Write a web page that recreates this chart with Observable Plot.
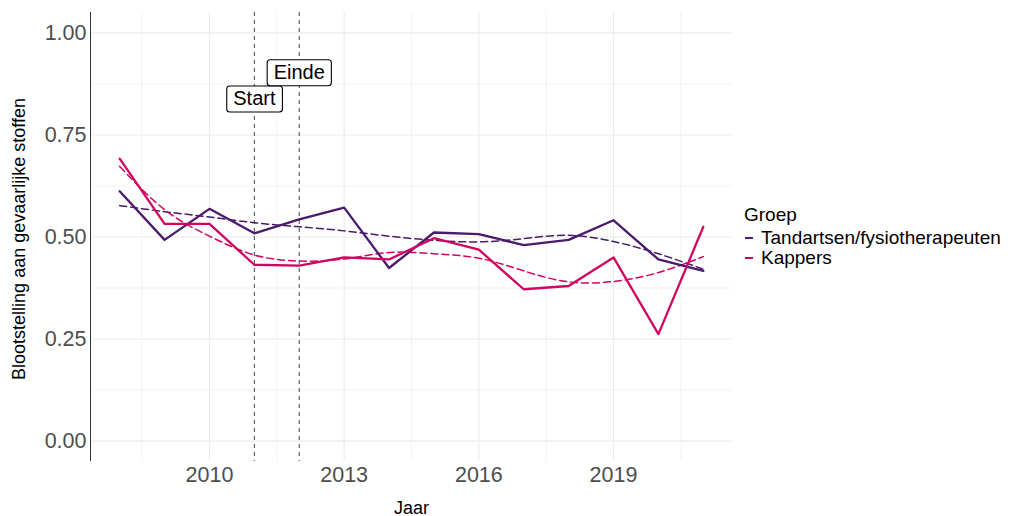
<!DOCTYPE html>
<html>
<head>
<meta charset="utf-8">
<script src="https://cdn.jsdelivr.net/npm/d3@7"></script>
<script src="https://cdn.jsdelivr.net/npm/@observablehq/plot@0.6"></script>
<style>
  body { margin: 0; background: white; font-family: "Liberation Sans", Arial, sans-serif; }
  #wrap { position: relative; width: 1035px; height: 516px; }
  #legend { position: absolute; left: 744px; top: 205px; font-size: 19px; color: #000; }
  #legend .title { line-height: 20px; height: 20px; margin-bottom: 3px; }
  #legend .item { line-height: 20px; height: 20px; position: relative; padding-left: 17px; white-space: nowrap; }
  #legend .sw { position: absolute; left: 1px; top: 9px; width: 8px; height: 2px; }
</style>
</head>
<body>
<div id="wrap"><div id="legend"></div></div>
<script>
const years = [2008, 2009, 2010, 2011, 2012, 2013, 2014, 2015, 2016, 2017, 2018, 2019, 2020, 2021];
const groups = ["Tandartsen/fysiotherapeuten", "Kappers"];
const colors = ["#4a1a6b", "#d1055f"];
const tandartsen = [0.612, 0.493, 0.569, 0.509, 0.543, 0.572, 0.424, 0.511, 0.507, 0.480, 0.493, 0.541, 0.445, 0.417];
const kappers    = [0.692, 0.532, 0.532, 0.432, 0.430, 0.450, 0.445, 0.497, 0.469, 0.372, 0.380, 0.450, 0.262, 0.525];
const tandartsenSmooth = [0.577, 0.562, 0.549, 0.535, 0.525, 0.515, 0.502, 0.492, 0.488, 0.496, 0.504, 0.489, 0.459, 0.421];
const kappersSmooth    = [0.673, 0.567, 0.502, 0.456, 0.441, 0.446, 0.462, 0.459, 0.448, 0.417, 0.390, 0.391, 0.413, 0.452];
const eventYears = [2011, 2012];
const eventLabels = ["Start", "Einde"];
const eventLabelY = [0.838, 0.902];
const xTicks = [2010, 2013, 2016, 2019];
const xMinor = [2008.5, 2011.5, 2014.5, 2017.5, 2020.5];
const yTicks = [0, 0.25, 0.5, 0.75, 1];
const yMinor = [0.125, 0.375, 0.625, 0.875];
const xDomain = [2007.35, 2021.65];
const yDomain = [-0.05, 1.05];

const raw = [];
const smooth = [];
years.forEach((yr, i) => {
  raw.push({year: yr, value: tandartsen[i], group: groups[0]});
  smooth.push({year: yr, value: tandartsenSmooth[i], group: groups[0]});
});
years.forEach((yr, i) => {
  raw.push({year: yr, value: kappers[i], group: groups[1]});
  smooth.push({year: yr, value: kappersSmooth[i], group: groups[1]});
});
const events = eventYears.map((y, i) => ({year: y, label: eventLabels[i], ly: eventLabelY[i]}));

const chart = Plot.plot({
  width: 1035,
  height: 516,
  marginLeft: 90,
  marginRight: 303,
  marginTop: 12,
  marginBottom: 55,
  x: {domain: xDomain},
  y: {domain: yDomain},
  color: {domain: groups, range: colors},
  style: {fontFamily: "Liberation Sans, Arial, sans-serif", background: "white", overflow: "visible"},
  marks: [
    Plot.ruleX(xMinor, {stroke: "#ebebeb", strokeWidth: 0.6}),
    Plot.ruleY(yMinor, {stroke: "#ebebeb", strokeWidth: 0.6}),
    Plot.ruleX(xTicks, {stroke: "#ebebeb", strokeWidth: 1.1}),
    Plot.ruleY(yTicks, {stroke: "#ebebeb", strokeWidth: 1.1}),
    Plot.ruleX([xDomain[0]], {stroke: "#333333", strokeWidth: 1}),
    Plot.ruleX(events, {x: "year", stroke: "#555555", strokeWidth: 1.1, strokeDasharray: "4,4"}),
    Plot.line(smooth, {x: "year", y: "value", z: "group", stroke: "group", strokeWidth: 1.5, strokeDasharray: "7,4", curve: "natural"}),
    Plot.line(raw, {x: "year", y: "value", z: "group", stroke: "group", strokeWidth: 2.3}),
    Plot.text(events, {x: "year", y: "ly", text: "label", fontSize: 20, fill: "black", className: "evlbl"}),
    Plot.axisX(xTicks, {anchor: "bottom", tickSize: 0, tickPadding: 5, fontSize: 21.5, color: "#4d4d4d", tickFormat: d => String(d), label: null}),
    Plot.axisY(yTicks, {anchor: "left", tickSize: 0, tickPadding: 4, fontSize: 21.5, color: "#4d4d4d", tickFormat: d => d.toFixed(2), label: null}),
    Plot.text(["Jaar"], {frameAnchor: "bottom", dy: 52, fontSize: 18, fill: "black"}),
    Plot.text(["Blootstelling aan gevaarlijke stoffen"], {frameAnchor: "left", textAnchor: "middle", dx: -71, dy: 2, rotate: -90, fontSize: 18, fill: "black"})
  ]
});

document.getElementById("wrap").prepend(chart);

// label boxes behind event labels
chart.querySelectorAll(".evlbl text").forEach(t => {
  const b = t.getBBox();
  const r = document.createElementNS("http://www.w3.org/2000/svg", "rect");
  const h = 26;
  const cy = b.y + b.height / 2 + 0.5;
  r.setAttribute("x", b.x - 6.5);
  r.setAttribute("y", cy - h / 2);
  r.setAttribute("width", b.width + 13);
  r.setAttribute("height", h);
  r.setAttribute("rx", 3);
  r.setAttribute("fill", "white");
  r.setAttribute("stroke", "black");
  r.setAttribute("stroke-width", 1.1);
  const tr = t.getAttribute("transform");
  if (tr) r.setAttribute("transform", tr);
  t.parentNode.insertBefore(r, t);
});

// legend
const legend = document.getElementById("legend");
const title = document.createElement("div");
title.className = "title";
title.textContent = "Groep";
legend.appendChild(title);
groups.forEach((g, i) => {
  const it = document.createElement("div");
  it.className = "item";
  const sw = document.createElement("span");
  sw.className = "sw";
  sw.style.background = colors[i];
  it.appendChild(sw);
  it.appendChild(document.createTextNode(g));
  legend.appendChild(it);
});
</script>
</body>
</html>
